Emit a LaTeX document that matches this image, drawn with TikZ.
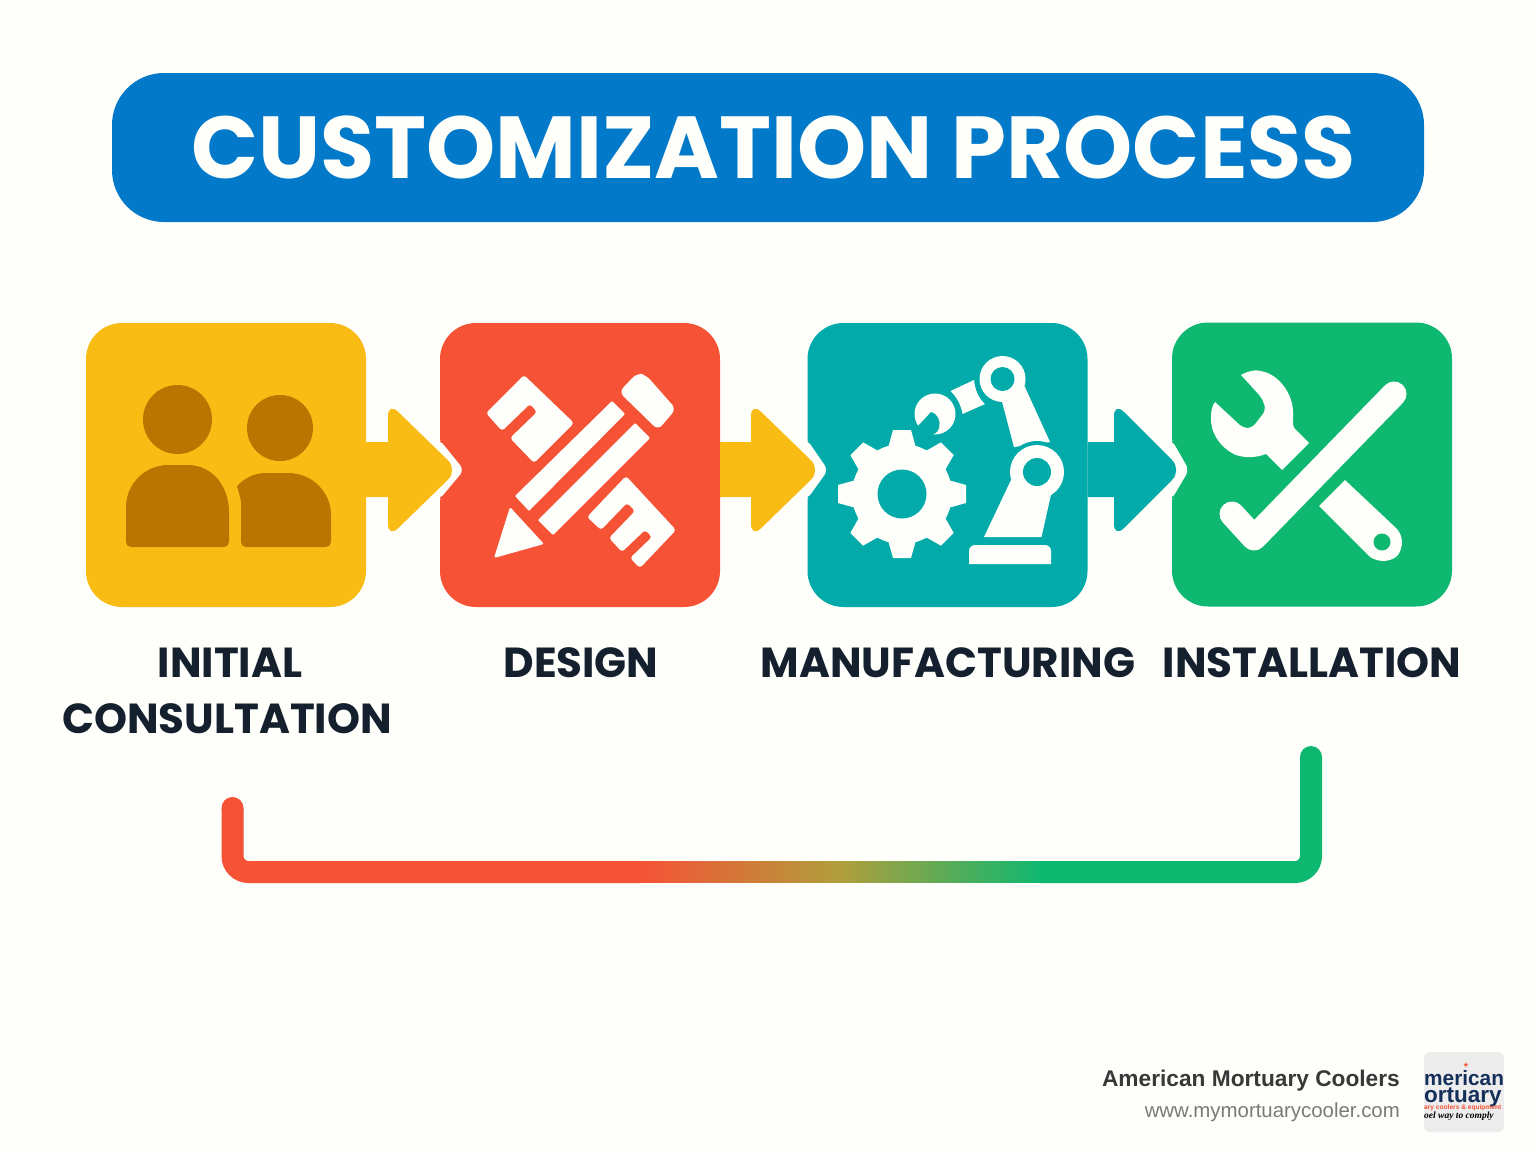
\documentclass[tikz,border=0pt]{standalone}
\usepackage{fontspec}
\setmainfont{Poppins}
\newfontfamily\footfont{Liberation Sans}
\newfontfamily\logofont{Liberation Serif}
\newfontfamily\symfont{DejaVu Sans}
\usetikzlibrary{calc}
\definecolor{paper}{HTML}{FEFEFB}
\definecolor{titleblue}{HTML}{0279C9}
\definecolor{amber}{HTML}{F9BC15}
\definecolor{brick}{HTML}{F65236}
\definecolor{teal}{HTML}{02ABA9}
\definecolor{leaf}{HTML}{0FB870}
\definecolor{umber}{HTML}{B87600}
\definecolor{ink}{HTML}{14202E}
\definecolor{navy}{HTML}{14305A}
\definecolor{olive}{HTML}{B09E3C}
\begin{document}
\begin{tikzpicture}[x=1pt,y=-1pt,
    tile/.style={shape=rectangle,rounded corners=36pt,minimum width=280pt,minimum height=284pt,inner sep=0pt},
    steplabel/.style={text=ink,font=\fontsize{42}{50}\selectfont\bfseries,inner sep=0pt,anchor=base},
    white/.style={fill=paper}]
  \fill[paper] (0,0) rectangle (1536,1154);
  \useasboundingbox (0,0) rectangle (1536,1154);
  % title
  \node[shape=rectangle,rounded corners=52pt,fill=titleblue,minimum width=1312pt,minimum height=149pt,inner sep=0pt] (banner) at (768,147.5) {};
  \node[text=paper,font=\fontsize{88}{100}\selectfont\bfseries,inner sep=0pt] (heading) at (773.5,147.5) {CUSTOMIZATION PROCESS};
  % tiles
  \node[tile,fill=amber] (consult) at (226,465) {};
  \node[tile,fill=brick] (design) at (580,465) {};
  \node[tile,fill=teal] (make) at (947.5,465) {};
  \node[tile,fill=leaf] (install) at (1312,464.5) {};
  % notches
  \fill[white,rounded corners=6pt] (design.west |- 0,440) -- (464,470) -- (design.west |- 0,499) -- (436,499) -- (436,440) -- cycle;
  \fill[white,rounded corners=6pt] (make.west |- 0,440) -- (828,470) -- (make.west |- 0,499) -- (803,499) -- (803,440) -- cycle;
  \fill[white,rounded corners=6pt] (install.west |- 0,440) -- (1189,470) -- (install.west |- 0,499) -- (1168,499) -- (1168,440) -- cycle;
  % arrows
  \coordinate (tip1) at (458,470);
  \coordinate (tip2) at (821,470);
  \coordinate (tip3) at (1182,470);
  \fill[amber] (consult.east |- 0,442) -- (388,442) [rounded corners=14pt] -- (388,402) -- (tip1) -- (388,538) [sharp corners] -- (388,497) -- (consult.east |- 0,497) -- cycle;
  \fill[amber] (design.east |- 0,442) -- (751,442) [rounded corners=14pt] -- (751,402) -- (tip2) -- (751,538) [sharp corners] -- (751,497) -- (design.east |- 0,497) -- cycle;
  \fill[teal] (make.east |- 0,442) -- (1114,442) [rounded corners=14pt] -- (1114,402) -- (tip3) -- (1114,538) [sharp corners] -- (1114,497) -- (make.east |- 0,497) -- cycle;
  % people
  \fill[umber] (177.5,419.5) circle (34.5);
  \fill[umber] (280,428) circle (33);
  \fill[umber,rounded corners=5pt] (126,547) -- (126,512) [sharp corners] .. controls (126,484) and (145,465) .. (168,465) -- (188,465) .. controls (212,465) and (229,486) .. (229,512) [rounded corners=5pt] -- (229,547) -- cycle;
  \fill[umber,rounded corners=5pt] (241,547) -- (241,507) [sharp corners] .. controls (241,500) and (239,493) .. (237,486) .. controls (245,478) and (254,473) .. (266,473) -- (288,473) .. controls (312,473) and (331,492) .. (331,515) [rounded corners=5pt] -- (331,547) -- cycle;
  % pencil and ruler
  \fill[white,rounded corners=3pt] (524,375) -- (486,413) -- (502,431) -- (530,404) -- (537,412) -- (510,438) -- (534,463) -- (574,423) -- cycle;
  \fill[white,rounded corners=6pt] (619,392) -- (637,373) -- (646,375) -- (676,409) -- (658,430) -- cycle;
  \fill[white,rounded corners=1pt] (612,401) -- (625,414) -- (529,511) -- (515,496) -- cycle;
  \fill[white,rounded corners=1pt] (635,423) -- (650,438) -- (553,535) -- (538,520) -- cycle;
  \fill[white,rounded corners=2pt] (510,507) -- (544,544) -- (494,558) -- cycle;
  \fill[white,rounded corners=3pt] (626,476) -- (587,517) -- (601,530) -- (627,503) -- (635,511) -- (609,538) -- (622,552) -- (645,530) -- (652,537) -- (630,558) -- (640,568) -- (676,530) -- cycle;
  % gear
  \begin{scope}[shift={(902,494)}]
    \fill[white] (0,0) circle (50);
    \fill[white,rotate=0] (-64,-9) -- (-46,-14) -- (46,-14) -- (64,-9) -- (64,9) -- (46,14) -- (-46,14) -- (-64,9) -- cycle;
    \fill[white,rotate=45] (-64,-9) -- (-46,-14) -- (46,-14) -- (64,-9) -- (64,9) -- (46,14) -- (-46,14) -- (-64,9) -- cycle;
    \fill[white,rotate=90] (-64,-9) -- (-46,-14) -- (46,-14) -- (64,-9) -- (64,9) -- (46,14) -- (-46,14) -- (-64,9) -- cycle;
    \fill[white,rotate=135] (-64,-9) -- (-46,-14) -- (46,-14) -- (64,-9) -- (64,9) -- (46,14) -- (-46,14) -- (-64,9) -- cycle;
    \fill[teal] (0,0) circle (24.5);
  \end{scope}
  % robot arm
  \fill[white] (1002.5,379) circle (23);
  \fill[white] (1001,398) -- (1024,385) -- (1050,442) -- (1014,447) -- cycle;
  \fill[teal] (1037,472) circle (31);
  \fill[white] (1011,480) -- (984,537) -- (1041.5,537) -- (1052,490) -- cycle;
  \fill[white] (1037,472) circle (27);
  \fill[teal] (1002.5,379) circle (12);
  \fill[teal] (1037,472) circle (14);
  \fill[white] (950.5,391) -- (974,380) .. controls (975,390) and (979,399) .. (985,404) -- (962.5,414) .. controls (961,405) and (957,397) .. (950.5,391) -- cycle;
  \fill[white] (935,414) circle (20.5);
  \fill[teal] (918,426) -- (931,412) .. controls (938,414) and (941,421) .. (939,428) .. controls (938,432) and (934,435) .. (928,436) -- (920,440) -- cycle;
  \fill[white] (969,564) -- (969,552) [rounded corners=6pt] -- (969,545) -- (1051,545) [sharp corners] -- (1051,564) -- cycle;
  % wrench and check
  \fill[white,rounded corners=3pt] (1241,375) .. controls (1248,371) and (1255,370) .. (1261,371) .. controls (1280,376) and (1293,395) .. (1293,415) -- (1293,427) [sharp corners] -- (1309,443) -- (1282,470) -- (1266,454) .. controls (1255,458) and (1245,458) .. (1236,455) .. controls (1220,448) and (1210,432) .. (1211,417) .. controls (1211,411) and (1212,406) .. (1215,402) [rounded corners=5pt] -- (1243,428) -- (1252,428) -- (1266,410) -- (1262,398) [sharp corners] -- cycle;
  \fill[white] (1345,480) -- (1319,506) -- (1367,554) .. controls (1373,562) and (1390,564) .. (1398,555) .. controls (1404,546) and (1403,535) .. (1396,528) -- cycle;
  \fill[leaf] (1382,542) circle (8.5);
  \draw[paper,line width=25pt,line cap=round,line join=round] (1232,514) -- (1254,538) -- (1394,394);
  % labels
  \node[steplabel] (initial) at (230,677) {INITIAL};
  \node[steplabel] (consultation) at (227,733) {CONSULTATION};
  \node[steplabel] (designname) at (581,677) {DESIGN};
  \node[steplabel] (makename) at (948,677) {MANUFACTURING};
  \node[steplabel] (installname) at (1312,677) {INSTALLATION};
  % feedback line
  \coordinate (backstart) at (232.5,808);
  \coordinate (backleft) at (232.5,872);
  \coordinate (backmidl) at (640,872);
  \coordinate (backmidr) at (1040,872);
  \coordinate (backright) at (1311,872);
  \coordinate (backend) at (1311,757);
  \draw[brick,line width=22pt,line cap=butt,rounded corners=16pt] (backstart) -- (backleft) -- (backmidl);
  \fill[brick] (backstart) circle (11);
  \draw[leaf,line width=22pt,line cap=butt,rounded corners=16pt] (backmidr) -- (backright) -- (backend);
  \fill[leaf] (backend) circle (11);
  \shade[left color=brick,right color=leaf,middle color=olive] (639.5,861.3) rectangle (1040.5,882.7);
  % footer
  \node[anchor=base east,inner sep=0pt,text=black!78,font=\footfont\fontsize{22.7}{28}\selectfont\bfseries] (company) at (1400,1086) {American Mortuary Coolers};
  \node[anchor=base east,inner sep=0pt,text=black!52,font=\footfont\fontsize{20.4}{24}\selectfont] (website) at (1400,1117) {www.mymortuarycooler.com};
  \node[shape=rectangle,rounded corners=5pt,fill=black!7,minimum width=80pt,minimum height=80pt,inner sep=0pt] (logo) at (1464,1092) {};
  \node[anchor=base west,inner sep=0pt,text=navy,font=\footfont\fontsize{20.8}{24}\selectfont\bfseries] (logoa) at (1424,1085) {merican};
  \node[anchor=base west,inner sep=0pt,text=navy,font=\footfont\fontsize{22.5}{24}\selectfont\bfseries] (logob) at (1424,1102) {ortuary};
  \node[inner sep=0pt,text=brick,font=\symfont\fontsize{7}{7}\selectfont] (logostar) at (1466,1065) {★};
  \node[anchor=base west,inner sep=0pt,text=brick,font=\footfont\fontsize{6.6}{7}\selectfont\bfseries] (logoc) at (1424,1109) {ary coolers \& equipment};
  \node[anchor=base west,inner sep=0pt,text=black,font=\logofont\fontsize{9.5}{10}\selectfont\bfseries\itshape] (logod) at (1424,1118) {oel way to comply};
\end{tikzpicture}
\end{document}
